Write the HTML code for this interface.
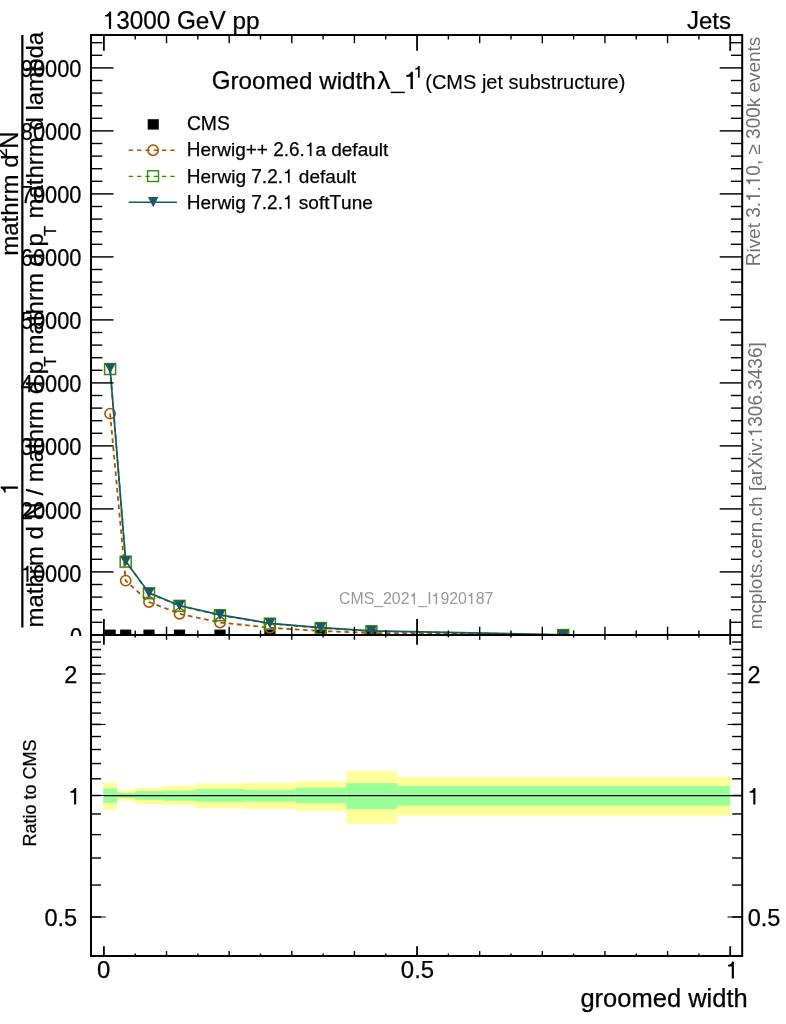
<!DOCTYPE html>
<html><head><meta charset="utf-8"><title>plot</title>
<style>
html,body{margin:0;padding:0;background:#fff;}
svg{display:block;}
text{font-family:"Liberation Sans",sans-serif;}
svg{will-change:transform;}
</style></head>
<body>
<svg width="786" height="1024" viewBox="0 0 786 1024">
<rect x="0" y="0" width="786" height="1024" fill="#fff"/>
<clipPath id="cu"><rect x="0" y="0" width="786" height="636.00"/></clipPath>
<g clip-path="url(#cu)">
<text x="70.02" y="644.78" font-size="23.20" fill="#000" textLength="12.13" lengthAdjust="spacingAndGlyphs" stroke="#000" stroke-width="0.25">0</text>
<path d="M530 0V-1003H209V-1129C389 -1148 512 -1232 569 -1409H715V0Z" transform="translate(20.81 581.66) scale(0.01065 0.01133)" fill="#000" stroke="#000" stroke-width="0.25"/><text x="32.94" y="581.66" font-size="23.20" fill="#000" textLength="48.51" lengthAdjust="spacingAndGlyphs" stroke="#000" stroke-width="0.25">0000</text>
<text x="20.81" y="518.54" font-size="23.20" fill="#000" textLength="60.64" lengthAdjust="spacingAndGlyphs" stroke="#000" stroke-width="0.25">20000</text>
<text x="20.81" y="455.42" font-size="23.20" fill="#000" textLength="60.64" lengthAdjust="spacingAndGlyphs" stroke="#000" stroke-width="0.25">30000</text>
<text x="20.81" y="392.30" font-size="23.20" fill="#000" textLength="60.64" lengthAdjust="spacingAndGlyphs" stroke="#000" stroke-width="0.25">40000</text>
<text x="20.81" y="329.18" font-size="23.20" fill="#000" textLength="60.64" lengthAdjust="spacingAndGlyphs" stroke="#000" stroke-width="0.25">50000</text>
<text x="20.81" y="266.06" font-size="23.20" fill="#000" textLength="60.64" lengthAdjust="spacingAndGlyphs" stroke="#000" stroke-width="0.25">60000</text>
<text x="20.81" y="202.94" font-size="23.20" fill="#000" textLength="60.64" lengthAdjust="spacingAndGlyphs" stroke="#000" stroke-width="0.25">70000</text>
<text x="20.81" y="139.82" font-size="23.20" fill="#000" textLength="60.64" lengthAdjust="spacingAndGlyphs" stroke="#000" stroke-width="0.25">80000</text>
<text x="20.81" y="76.70" font-size="23.20" fill="#000" textLength="60.64" lengthAdjust="spacingAndGlyphs" stroke="#000" stroke-width="0.25">90000</text>
<line x1="22.35" y1="34.90" x2="22.35" y2="627.60" stroke="#000" stroke-width="2.2" />
<g transform="rotate(-90 17.90 495.00)"><path d="M530 0V-1003H209V-1129C389 -1148 512 -1232 569 -1409H715V0Z" transform="translate(17.90 495.00) scale(0.01172 0.01222)" fill="#000" stroke="#000" stroke-width="0.25"/></g>
<g transform="rotate(-90 17.90 255.80)"><text x="17.90" y="255.80" font-size="24.00" fill="#000" textLength="81.34" lengthAdjust="spacingAndGlyphs" stroke="#000" stroke-width="0.25">mathrm</text><text x="105.91" y="255.80" font-size="24.00" fill="#000" textLength="13.35" lengthAdjust="spacingAndGlyphs" stroke="#000" stroke-width="0.25">d</text></g>
<g transform="rotate(-90 7.30 157.30)"><text x="7.30" y="157.30" font-size="17.11" fill="#000" textLength="9.12" lengthAdjust="spacingAndGlyphs" stroke="#000" stroke-width="0.25">2</text></g>
<g transform="rotate(-90 17.90 148.80)"><text x="17.90" y="148.80" font-size="25.03" fill="#000" textLength="17.33" lengthAdjust="spacingAndGlyphs" stroke="#000" stroke-width="0.25">N</text></g>
<g transform="rotate(-90 42.80 627.60)"><text x="42.80" y="627.60" font-size="24.00" fill="#000" textLength="81.34" lengthAdjust="spacingAndGlyphs" stroke="#000" stroke-width="0.25">mathrm</text><text x="130.81" y="627.60" font-size="24.00" fill="#000" textLength="13.35" lengthAdjust="spacingAndGlyphs" stroke="#000" stroke-width="0.25">d</text><text x="150.82" y="627.60" font-size="25.03" fill="#000" textLength="17.33" lengthAdjust="spacingAndGlyphs" stroke="#000" stroke-width="0.25">N</text><text x="174.82" y="627.60" font-size="24.00" fill="#000" textLength="6.67" lengthAdjust="spacingAndGlyphs" stroke="#000" stroke-width="0.25">/</text><text x="188.16" y="627.60" font-size="24.00" fill="#000" textLength="81.34" lengthAdjust="spacingAndGlyphs" stroke="#000" stroke-width="0.25">mathrm</text><text x="276.17" y="627.60" font-size="24.00" fill="#000" textLength="13.35" lengthAdjust="spacingAndGlyphs" stroke="#000" stroke-width="0.25">d</text><text x="296.18" y="627.60" font-size="24.00" fill="#000" textLength="13.35" lengthAdjust="spacingAndGlyphs" stroke="#000" stroke-width="0.25">p</text></g>
<g transform="rotate(-90 55.90 366.50)"><text x="55.90" y="366.50" font-size="17.11" fill="#000" textLength="10.02" lengthAdjust="spacingAndGlyphs" stroke="#000" stroke-width="0.25">T</text></g>
<g transform="rotate(-90 42.80 354.40)"><text x="42.80" y="354.40" font-size="24.00" fill="#000" textLength="81.34" lengthAdjust="spacingAndGlyphs" stroke="#000" stroke-width="0.25">mathrm</text><text x="130.81" y="354.40" font-size="24.00" fill="#000" textLength="13.35" lengthAdjust="spacingAndGlyphs" stroke="#000" stroke-width="0.25">d</text><text x="150.82" y="354.40" font-size="24.00" fill="#000" textLength="13.35" lengthAdjust="spacingAndGlyphs" stroke="#000" stroke-width="0.25">p</text></g>
<g transform="rotate(-90 55.90 236.10)"><text x="55.90" y="236.10" font-size="17.11" fill="#000" textLength="10.02" lengthAdjust="spacingAndGlyphs" stroke="#000" stroke-width="0.25">T</text></g>
<g transform="rotate(-90 42.80 218.50)"><text x="42.80" y="218.50" font-size="24.00" fill="#000" textLength="81.34" lengthAdjust="spacingAndGlyphs" stroke="#000" stroke-width="0.25">mathrm</text><text x="130.81" y="218.50" font-size="24.00" fill="#000" textLength="13.35" lengthAdjust="spacingAndGlyphs" stroke="#000" stroke-width="0.25">d</text><text x="150.82" y="218.50" font-size="24.00" fill="#000" textLength="78.71" lengthAdjust="spacingAndGlyphs" stroke="#000" stroke-width="0.25">lambda</text></g>
<rect x="104.50" y="629.60" width="11.2" height="10.6" fill="#000"/>
<rect x="120.10" y="629.60" width="11.2" height="10.6" fill="#000"/>
<rect x="143.40" y="629.60" width="11.2" height="10.6" fill="#000"/>
<rect x="173.90" y="629.60" width="11.2" height="10.6" fill="#000"/>
<rect x="214.40" y="629.60" width="11.2" height="10.6" fill="#000"/>
<rect x="264.30" y="629.60" width="11.2" height="10.6" fill="#000"/>
<rect x="315.10" y="629.60" width="11.2" height="10.6" fill="#000"/>
<rect x="365.80" y="629.60" width="11.2" height="10.6" fill="#000"/>
<rect x="557.60" y="629.60" width="11.2" height="10.6" fill="#000"/>
<polyline points="110.10,413.60 125.70,580.60 149.00,602.00 179.50,613.70 220.00,622.50 269.90,627.70 320.70,631.00 371.40,633.00 563.20,635.20" fill="none" stroke="#a95503" stroke-width="1.8" stroke-dasharray="4.6 3.7"/>
<circle cx="110.10" cy="413.60" r="5.15" fill="none" stroke="#a95503" stroke-width="1.6"/>
<circle cx="125.70" cy="580.60" r="5.15" fill="none" stroke="#a95503" stroke-width="1.6"/>
<circle cx="149.00" cy="602.00" r="5.15" fill="none" stroke="#a95503" stroke-width="1.6"/>
<circle cx="179.50" cy="613.70" r="5.15" fill="none" stroke="#a95503" stroke-width="1.6"/>
<circle cx="220.00" cy="622.50" r="5.15" fill="none" stroke="#a95503" stroke-width="1.6"/>
<circle cx="269.90" cy="627.70" r="5.15" fill="none" stroke="#a95503" stroke-width="1.6"/>
<circle cx="320.70" cy="631.00" r="5.15" fill="none" stroke="#a95503" stroke-width="1.6"/>
<circle cx="371.40" cy="633.00" r="5.15" fill="none" stroke="#a95503" stroke-width="1.6"/>
<circle cx="563.20" cy="635.20" r="5.15" fill="none" stroke="#a95503" stroke-width="1.6"/>
<polyline points="110.10,369.00 125.70,561.60 149.00,593.20 179.50,605.80 220.00,615.20 269.90,623.60 320.70,628.00 371.40,631.20 563.20,635.00" fill="none" stroke="#358c05" stroke-width="1.7" stroke-dasharray="4.6 3.7"/>
<rect x="104.60" y="363.60" width="11" height="10.9" fill="none" stroke="#358c05" stroke-width="1.5"/>
<rect x="120.20" y="556.20" width="11" height="10.9" fill="none" stroke="#358c05" stroke-width="1.5"/>
<rect x="143.50" y="587.80" width="11" height="10.9" fill="none" stroke="#358c05" stroke-width="1.5"/>
<rect x="174.00" y="600.40" width="11" height="10.9" fill="none" stroke="#358c05" stroke-width="1.5"/>
<rect x="214.50" y="609.80" width="11" height="10.9" fill="none" stroke="#358c05" stroke-width="1.5"/>
<rect x="264.40" y="618.20" width="11" height="10.9" fill="none" stroke="#358c05" stroke-width="1.5"/>
<rect x="315.20" y="622.60" width="11" height="10.9" fill="none" stroke="#358c05" stroke-width="1.5"/>
<rect x="365.90" y="625.80" width="11" height="10.9" fill="none" stroke="#358c05" stroke-width="1.5"/>
<rect x="557.70" y="629.60" width="11" height="10.9" fill="none" stroke="#358c05" stroke-width="1.5"/>
<polyline points="110.10,368.50 125.70,561.30 149.00,592.90 179.50,605.50 220.00,614.90 269.90,623.30 320.70,627.70 371.40,630.90 563.20,634.80" fill="none" stroke="#1a5864" stroke-width="1.7"/>
<polygon points="104.70,363.50 115.50,363.50 110.10,373.50" fill="#1a5864"/>
<polygon points="120.30,556.30 131.10,556.30 125.70,566.30" fill="#1a5864"/>
<polygon points="143.60,587.90 154.40,587.90 149.00,597.90" fill="#1a5864"/>
<polygon points="174.10,600.50 184.90,600.50 179.50,610.50" fill="#1a5864"/>
<polygon points="214.60,609.90 225.40,609.90 220.00,619.90" fill="#1a5864"/>
<polygon points="264.50,618.30 275.30,618.30 269.90,628.30" fill="#1a5864"/>
<polygon points="315.30,622.70 326.10,622.70 320.70,632.70" fill="#1a5864"/>
<polygon points="366.00,625.90 376.80,625.90 371.40,635.90" fill="#1a5864"/>
<polygon points="557.80,629.80 568.60,629.80 563.20,639.80" fill="#1a5864"/>
<line x1="103.90" y1="35.00" x2="103.90" y2="50.80" stroke="#000" stroke-width="1.8" />
<line x1="103.90" y1="634.90" x2="103.90" y2="619.10" stroke="#000" stroke-width="1.8" />
<line x1="135.22" y1="35.00" x2="135.22" y2="39.50" stroke="#000" stroke-width="1.4" />
<line x1="135.22" y1="634.90" x2="135.22" y2="630.40" stroke="#000" stroke-width="1.4" />
<line x1="166.53" y1="35.00" x2="166.53" y2="43.20" stroke="#000" stroke-width="1.4" />
<line x1="166.53" y1="634.90" x2="166.53" y2="626.70" stroke="#000" stroke-width="1.4" />
<line x1="197.85" y1="35.00" x2="197.85" y2="39.50" stroke="#000" stroke-width="1.4" />
<line x1="197.85" y1="634.90" x2="197.85" y2="630.40" stroke="#000" stroke-width="1.4" />
<line x1="229.16" y1="35.00" x2="229.16" y2="43.20" stroke="#000" stroke-width="1.4" />
<line x1="229.16" y1="634.90" x2="229.16" y2="626.70" stroke="#000" stroke-width="1.4" />
<line x1="260.48" y1="35.00" x2="260.48" y2="39.50" stroke="#000" stroke-width="1.4" />
<line x1="260.48" y1="634.90" x2="260.48" y2="630.40" stroke="#000" stroke-width="1.4" />
<line x1="291.79" y1="35.00" x2="291.79" y2="43.20" stroke="#000" stroke-width="1.4" />
<line x1="291.79" y1="634.90" x2="291.79" y2="626.70" stroke="#000" stroke-width="1.4" />
<line x1="323.11" y1="35.00" x2="323.11" y2="39.50" stroke="#000" stroke-width="1.4" />
<line x1="323.11" y1="634.90" x2="323.11" y2="630.40" stroke="#000" stroke-width="1.4" />
<line x1="354.42" y1="35.00" x2="354.42" y2="43.20" stroke="#000" stroke-width="1.4" />
<line x1="354.42" y1="634.90" x2="354.42" y2="626.70" stroke="#000" stroke-width="1.4" />
<line x1="385.74" y1="35.00" x2="385.74" y2="39.50" stroke="#000" stroke-width="1.4" />
<line x1="385.74" y1="634.90" x2="385.74" y2="630.40" stroke="#000" stroke-width="1.4" />
<line x1="417.05" y1="35.00" x2="417.05" y2="50.80" stroke="#000" stroke-width="1.8" />
<line x1="417.05" y1="634.90" x2="417.05" y2="619.10" stroke="#000" stroke-width="1.8" />
<line x1="448.37" y1="35.00" x2="448.37" y2="39.50" stroke="#000" stroke-width="1.4" />
<line x1="448.37" y1="634.90" x2="448.37" y2="630.40" stroke="#000" stroke-width="1.4" />
<line x1="479.68" y1="35.00" x2="479.68" y2="43.20" stroke="#000" stroke-width="1.4" />
<line x1="479.68" y1="634.90" x2="479.68" y2="626.70" stroke="#000" stroke-width="1.4" />
<line x1="511.00" y1="35.00" x2="511.00" y2="39.50" stroke="#000" stroke-width="1.4" />
<line x1="511.00" y1="634.90" x2="511.00" y2="630.40" stroke="#000" stroke-width="1.4" />
<line x1="542.31" y1="35.00" x2="542.31" y2="43.20" stroke="#000" stroke-width="1.4" />
<line x1="542.31" y1="634.90" x2="542.31" y2="626.70" stroke="#000" stroke-width="1.4" />
<line x1="573.62" y1="35.00" x2="573.62" y2="39.50" stroke="#000" stroke-width="1.4" />
<line x1="573.62" y1="634.90" x2="573.62" y2="630.40" stroke="#000" stroke-width="1.4" />
<line x1="604.94" y1="35.00" x2="604.94" y2="43.20" stroke="#000" stroke-width="1.4" />
<line x1="604.94" y1="634.90" x2="604.94" y2="626.70" stroke="#000" stroke-width="1.4" />
<line x1="636.25" y1="35.00" x2="636.25" y2="39.50" stroke="#000" stroke-width="1.4" />
<line x1="636.25" y1="634.90" x2="636.25" y2="630.40" stroke="#000" stroke-width="1.4" />
<line x1="667.57" y1="35.00" x2="667.57" y2="43.20" stroke="#000" stroke-width="1.4" />
<line x1="667.57" y1="634.90" x2="667.57" y2="626.70" stroke="#000" stroke-width="1.4" />
<line x1="698.88" y1="35.00" x2="698.88" y2="39.50" stroke="#000" stroke-width="1.4" />
<line x1="698.88" y1="634.90" x2="698.88" y2="630.40" stroke="#000" stroke-width="1.4" />
<line x1="730.20" y1="35.00" x2="730.20" y2="50.80" stroke="#000" stroke-width="1.8" />
<line x1="730.20" y1="634.90" x2="730.20" y2="619.10" stroke="#000" stroke-width="1.8" />
<line x1="91.00" y1="634.90" x2="113.50" y2="634.90" stroke="#000" stroke-width="1.45" />
<line x1="742.20" y1="634.90" x2="719.70" y2="634.90" stroke="#000" stroke-width="1.45" />
<line x1="91.00" y1="622.30" x2="102.30" y2="622.30" stroke="#000" stroke-width="1.4" />
<line x1="742.20" y1="622.30" x2="730.90" y2="622.30" stroke="#000" stroke-width="1.4" />
<line x1="91.00" y1="609.70" x2="102.30" y2="609.70" stroke="#000" stroke-width="1.4" />
<line x1="742.20" y1="609.70" x2="730.90" y2="609.70" stroke="#000" stroke-width="1.4" />
<line x1="91.00" y1="597.10" x2="102.30" y2="597.10" stroke="#000" stroke-width="1.4" />
<line x1="742.20" y1="597.10" x2="730.90" y2="597.10" stroke="#000" stroke-width="1.4" />
<line x1="91.00" y1="584.50" x2="102.30" y2="584.50" stroke="#000" stroke-width="1.4" />
<line x1="742.20" y1="584.50" x2="730.90" y2="584.50" stroke="#000" stroke-width="1.4" />
<line x1="91.00" y1="571.90" x2="113.50" y2="571.90" stroke="#000" stroke-width="1.45" />
<line x1="742.20" y1="571.90" x2="719.70" y2="571.90" stroke="#000" stroke-width="1.45" />
<line x1="91.00" y1="559.30" x2="102.30" y2="559.30" stroke="#000" stroke-width="1.4" />
<line x1="742.20" y1="559.30" x2="730.90" y2="559.30" stroke="#000" stroke-width="1.4" />
<line x1="91.00" y1="546.70" x2="102.30" y2="546.70" stroke="#000" stroke-width="1.4" />
<line x1="742.20" y1="546.70" x2="730.90" y2="546.70" stroke="#000" stroke-width="1.4" />
<line x1="91.00" y1="534.10" x2="102.30" y2="534.10" stroke="#000" stroke-width="1.4" />
<line x1="742.20" y1="534.10" x2="730.90" y2="534.10" stroke="#000" stroke-width="1.4" />
<line x1="91.00" y1="521.50" x2="102.30" y2="521.50" stroke="#000" stroke-width="1.4" />
<line x1="742.20" y1="521.50" x2="730.90" y2="521.50" stroke="#000" stroke-width="1.4" />
<line x1="91.00" y1="508.90" x2="113.50" y2="508.90" stroke="#000" stroke-width="1.45" />
<line x1="742.20" y1="508.90" x2="719.70" y2="508.90" stroke="#000" stroke-width="1.45" />
<line x1="91.00" y1="496.30" x2="102.30" y2="496.30" stroke="#000" stroke-width="1.4" />
<line x1="742.20" y1="496.30" x2="730.90" y2="496.30" stroke="#000" stroke-width="1.4" />
<line x1="91.00" y1="483.70" x2="102.30" y2="483.70" stroke="#000" stroke-width="1.4" />
<line x1="742.20" y1="483.70" x2="730.90" y2="483.70" stroke="#000" stroke-width="1.4" />
<line x1="91.00" y1="471.10" x2="102.30" y2="471.10" stroke="#000" stroke-width="1.4" />
<line x1="742.20" y1="471.10" x2="730.90" y2="471.10" stroke="#000" stroke-width="1.4" />
<line x1="91.00" y1="458.50" x2="102.30" y2="458.50" stroke="#000" stroke-width="1.4" />
<line x1="742.20" y1="458.50" x2="730.90" y2="458.50" stroke="#000" stroke-width="1.4" />
<line x1="91.00" y1="445.90" x2="113.50" y2="445.90" stroke="#000" stroke-width="1.45" />
<line x1="742.20" y1="445.90" x2="719.70" y2="445.90" stroke="#000" stroke-width="1.45" />
<line x1="91.00" y1="433.30" x2="102.30" y2="433.30" stroke="#000" stroke-width="1.4" />
<line x1="742.20" y1="433.30" x2="730.90" y2="433.30" stroke="#000" stroke-width="1.4" />
<line x1="91.00" y1="420.70" x2="102.30" y2="420.70" stroke="#000" stroke-width="1.4" />
<line x1="742.20" y1="420.70" x2="730.90" y2="420.70" stroke="#000" stroke-width="1.4" />
<line x1="91.00" y1="408.10" x2="102.30" y2="408.10" stroke="#000" stroke-width="1.4" />
<line x1="742.20" y1="408.10" x2="730.90" y2="408.10" stroke="#000" stroke-width="1.4" />
<line x1="91.00" y1="395.50" x2="102.30" y2="395.50" stroke="#000" stroke-width="1.4" />
<line x1="742.20" y1="395.50" x2="730.90" y2="395.50" stroke="#000" stroke-width="1.4" />
<line x1="91.00" y1="382.90" x2="113.50" y2="382.90" stroke="#000" stroke-width="1.45" />
<line x1="742.20" y1="382.90" x2="719.70" y2="382.90" stroke="#000" stroke-width="1.45" />
<line x1="91.00" y1="370.30" x2="102.30" y2="370.30" stroke="#000" stroke-width="1.4" />
<line x1="742.20" y1="370.30" x2="730.90" y2="370.30" stroke="#000" stroke-width="1.4" />
<line x1="91.00" y1="357.70" x2="102.30" y2="357.70" stroke="#000" stroke-width="1.4" />
<line x1="742.20" y1="357.70" x2="730.90" y2="357.70" stroke="#000" stroke-width="1.4" />
<line x1="91.00" y1="345.10" x2="102.30" y2="345.10" stroke="#000" stroke-width="1.4" />
<line x1="742.20" y1="345.10" x2="730.90" y2="345.10" stroke="#000" stroke-width="1.4" />
<line x1="91.00" y1="332.50" x2="102.30" y2="332.50" stroke="#000" stroke-width="1.4" />
<line x1="742.20" y1="332.50" x2="730.90" y2="332.50" stroke="#000" stroke-width="1.4" />
<line x1="91.00" y1="319.90" x2="113.50" y2="319.90" stroke="#000" stroke-width="1.45" />
<line x1="742.20" y1="319.90" x2="719.70" y2="319.90" stroke="#000" stroke-width="1.45" />
<line x1="91.00" y1="307.30" x2="102.30" y2="307.30" stroke="#000" stroke-width="1.4" />
<line x1="742.20" y1="307.30" x2="730.90" y2="307.30" stroke="#000" stroke-width="1.4" />
<line x1="91.00" y1="294.70" x2="102.30" y2="294.70" stroke="#000" stroke-width="1.4" />
<line x1="742.20" y1="294.70" x2="730.90" y2="294.70" stroke="#000" stroke-width="1.4" />
<line x1="91.00" y1="282.10" x2="102.30" y2="282.10" stroke="#000" stroke-width="1.4" />
<line x1="742.20" y1="282.10" x2="730.90" y2="282.10" stroke="#000" stroke-width="1.4" />
<line x1="91.00" y1="269.50" x2="102.30" y2="269.50" stroke="#000" stroke-width="1.4" />
<line x1="742.20" y1="269.50" x2="730.90" y2="269.50" stroke="#000" stroke-width="1.4" />
<line x1="91.00" y1="256.90" x2="113.50" y2="256.90" stroke="#000" stroke-width="1.45" />
<line x1="742.20" y1="256.90" x2="719.70" y2="256.90" stroke="#000" stroke-width="1.45" />
<line x1="91.00" y1="244.30" x2="102.30" y2="244.30" stroke="#000" stroke-width="1.4" />
<line x1="742.20" y1="244.30" x2="730.90" y2="244.30" stroke="#000" stroke-width="1.4" />
<line x1="91.00" y1="231.70" x2="102.30" y2="231.70" stroke="#000" stroke-width="1.4" />
<line x1="742.20" y1="231.70" x2="730.90" y2="231.70" stroke="#000" stroke-width="1.4" />
<line x1="91.00" y1="219.10" x2="102.30" y2="219.10" stroke="#000" stroke-width="1.4" />
<line x1="742.20" y1="219.10" x2="730.90" y2="219.10" stroke="#000" stroke-width="1.4" />
<line x1="91.00" y1="206.50" x2="102.30" y2="206.50" stroke="#000" stroke-width="1.4" />
<line x1="742.20" y1="206.50" x2="730.90" y2="206.50" stroke="#000" stroke-width="1.4" />
<line x1="91.00" y1="193.90" x2="113.50" y2="193.90" stroke="#000" stroke-width="1.45" />
<line x1="742.20" y1="193.90" x2="719.70" y2="193.90" stroke="#000" stroke-width="1.45" />
<line x1="91.00" y1="181.30" x2="102.30" y2="181.30" stroke="#000" stroke-width="1.4" />
<line x1="742.20" y1="181.30" x2="730.90" y2="181.30" stroke="#000" stroke-width="1.4" />
<line x1="91.00" y1="168.70" x2="102.30" y2="168.70" stroke="#000" stroke-width="1.4" />
<line x1="742.20" y1="168.70" x2="730.90" y2="168.70" stroke="#000" stroke-width="1.4" />
<line x1="91.00" y1="156.10" x2="102.30" y2="156.10" stroke="#000" stroke-width="1.4" />
<line x1="742.20" y1="156.10" x2="730.90" y2="156.10" stroke="#000" stroke-width="1.4" />
<line x1="91.00" y1="143.50" x2="102.30" y2="143.50" stroke="#000" stroke-width="1.4" />
<line x1="742.20" y1="143.50" x2="730.90" y2="143.50" stroke="#000" stroke-width="1.4" />
<line x1="91.00" y1="130.90" x2="113.50" y2="130.90" stroke="#000" stroke-width="1.45" />
<line x1="742.20" y1="130.90" x2="719.70" y2="130.90" stroke="#000" stroke-width="1.45" />
<line x1="91.00" y1="118.30" x2="102.30" y2="118.30" stroke="#000" stroke-width="1.4" />
<line x1="742.20" y1="118.30" x2="730.90" y2="118.30" stroke="#000" stroke-width="1.4" />
<line x1="91.00" y1="105.70" x2="102.30" y2="105.70" stroke="#000" stroke-width="1.4" />
<line x1="742.20" y1="105.70" x2="730.90" y2="105.70" stroke="#000" stroke-width="1.4" />
<line x1="91.00" y1="93.10" x2="102.30" y2="93.10" stroke="#000" stroke-width="1.4" />
<line x1="742.20" y1="93.10" x2="730.90" y2="93.10" stroke="#000" stroke-width="1.4" />
<line x1="91.00" y1="80.50" x2="102.30" y2="80.50" stroke="#000" stroke-width="1.4" />
<line x1="742.20" y1="80.50" x2="730.90" y2="80.50" stroke="#000" stroke-width="1.4" />
<line x1="91.00" y1="67.90" x2="113.50" y2="67.90" stroke="#000" stroke-width="1.45" />
<line x1="742.20" y1="67.90" x2="719.70" y2="67.90" stroke="#000" stroke-width="1.45" />
<line x1="91.00" y1="55.30" x2="102.30" y2="55.30" stroke="#000" stroke-width="1.4" />
<line x1="742.20" y1="55.30" x2="730.90" y2="55.30" stroke="#000" stroke-width="1.4" />
<line x1="91.00" y1="42.70" x2="102.30" y2="42.70" stroke="#000" stroke-width="1.4" />
<line x1="742.20" y1="42.70" x2="730.90" y2="42.70" stroke="#000" stroke-width="1.4" />
</g>
<rect x="103.10" y="782.50" width="13.90" height="27.40" fill="#ffff99"/>
<rect x="117.00" y="790.10" width="17.80" height="10.80" fill="#ffff99"/>
<rect x="134.80" y="788.00" width="28.20" height="16.00" fill="#ffff99"/>
<rect x="163.00" y="785.90" width="32.20" height="19.20" fill="#ffff99"/>
<rect x="195.20" y="783.40" width="48.90" height="24.80" fill="#ffff99"/>
<rect x="244.10" y="782.80" width="51.20" height="26.20" fill="#ffff99"/>
<rect x="295.30" y="781.00" width="50.90" height="30.00" fill="#ffff99"/>
<rect x="346.20" y="771.00" width="50.90" height="52.70" fill="#ffff99"/>
<rect x="397.10" y="776.90" width="333.00" height="38.90" fill="#ffff99"/>
<rect x="103.10" y="788.50" width="13.90" height="14.40" fill="#99ff99"/>
<rect x="117.00" y="792.90" width="17.80" height="5.10" fill="#99ff99"/>
<rect x="134.80" y="791.10" width="28.20" height="8.70" fill="#99ff99"/>
<rect x="163.00" y="790.60" width="32.20" height="10.10" fill="#99ff99"/>
<rect x="195.20" y="789.00" width="48.90" height="12.90" fill="#99ff99"/>
<rect x="244.10" y="789.80" width="51.20" height="11.80" fill="#99ff99"/>
<rect x="295.30" y="787.60" width="50.90" height="15.70" fill="#99ff99"/>
<rect x="346.20" y="783.10" width="50.90" height="26.00" fill="#99ff99"/>
<rect x="397.10" y="786.00" width="333.00" height="19.60" fill="#99ff99"/>
<line x1="103.90" y1="795.60" x2="742.20" y2="795.60" stroke="#000" stroke-width="1.3" />
<line x1="103.90" y1="634.90" x2="103.90" y2="644.70" stroke="#000" stroke-width="1.8" />
<line x1="103.90" y1="956.00" x2="103.90" y2="946.20" stroke="#000" stroke-width="1.8" />
<line x1="135.22" y1="634.90" x2="135.22" y2="637.40" stroke="#000" stroke-width="1.4" />
<line x1="135.22" y1="956.00" x2="135.22" y2="953.50" stroke="#000" stroke-width="1.4" />
<line x1="166.53" y1="634.90" x2="166.53" y2="639.80" stroke="#000" stroke-width="1.4" />
<line x1="166.53" y1="956.00" x2="166.53" y2="951.10" stroke="#000" stroke-width="1.4" />
<line x1="197.85" y1="634.90" x2="197.85" y2="637.40" stroke="#000" stroke-width="1.4" />
<line x1="197.85" y1="956.00" x2="197.85" y2="953.50" stroke="#000" stroke-width="1.4" />
<line x1="229.16" y1="634.90" x2="229.16" y2="639.80" stroke="#000" stroke-width="1.4" />
<line x1="229.16" y1="956.00" x2="229.16" y2="951.10" stroke="#000" stroke-width="1.4" />
<line x1="260.48" y1="634.90" x2="260.48" y2="637.40" stroke="#000" stroke-width="1.4" />
<line x1="260.48" y1="956.00" x2="260.48" y2="953.50" stroke="#000" stroke-width="1.4" />
<line x1="291.79" y1="634.90" x2="291.79" y2="639.80" stroke="#000" stroke-width="1.4" />
<line x1="291.79" y1="956.00" x2="291.79" y2="951.10" stroke="#000" stroke-width="1.4" />
<line x1="323.11" y1="634.90" x2="323.11" y2="637.40" stroke="#000" stroke-width="1.4" />
<line x1="323.11" y1="956.00" x2="323.11" y2="953.50" stroke="#000" stroke-width="1.4" />
<line x1="354.42" y1="634.90" x2="354.42" y2="639.80" stroke="#000" stroke-width="1.4" />
<line x1="354.42" y1="956.00" x2="354.42" y2="951.10" stroke="#000" stroke-width="1.4" />
<line x1="385.74" y1="634.90" x2="385.74" y2="637.40" stroke="#000" stroke-width="1.4" />
<line x1="385.74" y1="956.00" x2="385.74" y2="953.50" stroke="#000" stroke-width="1.4" />
<line x1="417.05" y1="634.90" x2="417.05" y2="644.70" stroke="#000" stroke-width="1.8" />
<line x1="417.05" y1="956.00" x2="417.05" y2="946.20" stroke="#000" stroke-width="1.8" />
<line x1="448.37" y1="634.90" x2="448.37" y2="637.40" stroke="#000" stroke-width="1.4" />
<line x1="448.37" y1="956.00" x2="448.37" y2="953.50" stroke="#000" stroke-width="1.4" />
<line x1="479.68" y1="634.90" x2="479.68" y2="639.80" stroke="#000" stroke-width="1.4" />
<line x1="479.68" y1="956.00" x2="479.68" y2="951.10" stroke="#000" stroke-width="1.4" />
<line x1="511.00" y1="634.90" x2="511.00" y2="637.40" stroke="#000" stroke-width="1.4" />
<line x1="511.00" y1="956.00" x2="511.00" y2="953.50" stroke="#000" stroke-width="1.4" />
<line x1="542.31" y1="634.90" x2="542.31" y2="639.80" stroke="#000" stroke-width="1.4" />
<line x1="542.31" y1="956.00" x2="542.31" y2="951.10" stroke="#000" stroke-width="1.4" />
<line x1="573.62" y1="634.90" x2="573.62" y2="637.40" stroke="#000" stroke-width="1.4" />
<line x1="573.62" y1="956.00" x2="573.62" y2="953.50" stroke="#000" stroke-width="1.4" />
<line x1="604.94" y1="634.90" x2="604.94" y2="639.80" stroke="#000" stroke-width="1.4" />
<line x1="604.94" y1="956.00" x2="604.94" y2="951.10" stroke="#000" stroke-width="1.4" />
<line x1="636.25" y1="634.90" x2="636.25" y2="637.40" stroke="#000" stroke-width="1.4" />
<line x1="636.25" y1="956.00" x2="636.25" y2="953.50" stroke="#000" stroke-width="1.4" />
<line x1="667.57" y1="634.90" x2="667.57" y2="639.80" stroke="#000" stroke-width="1.4" />
<line x1="667.57" y1="956.00" x2="667.57" y2="951.10" stroke="#000" stroke-width="1.4" />
<line x1="698.88" y1="634.90" x2="698.88" y2="637.40" stroke="#000" stroke-width="1.4" />
<line x1="698.88" y1="956.00" x2="698.88" y2="953.50" stroke="#000" stroke-width="1.4" />
<line x1="730.20" y1="634.90" x2="730.20" y2="644.70" stroke="#000" stroke-width="1.8" />
<line x1="730.20" y1="956.00" x2="730.20" y2="946.20" stroke="#000" stroke-width="1.8" />
<line x1="91.00" y1="917.00" x2="105.70" y2="917.00" stroke="#000" stroke-width="1.0" />
<line x1="742.20" y1="917.00" x2="727.50" y2="917.00" stroke="#000" stroke-width="1.0" />
<line x1="91.00" y1="917.00" x2="101.00" y2="917.00" stroke="#000" stroke-width="1.5" />
<line x1="742.20" y1="917.00" x2="732.20" y2="917.00" stroke="#000" stroke-width="1.5" />
<line x1="91.00" y1="885.04" x2="101.00" y2="885.04" stroke="#000" stroke-width="1.4" />
<line x1="742.20" y1="885.04" x2="732.20" y2="885.04" stroke="#000" stroke-width="1.4" />
<line x1="91.00" y1="858.02" x2="101.00" y2="858.02" stroke="#000" stroke-width="1.4" />
<line x1="742.20" y1="858.02" x2="732.20" y2="858.02" stroke="#000" stroke-width="1.4" />
<line x1="91.00" y1="834.61" x2="101.00" y2="834.61" stroke="#000" stroke-width="1.4" />
<line x1="742.20" y1="834.61" x2="732.20" y2="834.61" stroke="#000" stroke-width="1.4" />
<line x1="91.00" y1="813.97" x2="101.00" y2="813.97" stroke="#000" stroke-width="1.4" />
<line x1="742.20" y1="813.97" x2="732.20" y2="813.97" stroke="#000" stroke-width="1.4" />
<line x1="91.00" y1="795.50" x2="105.70" y2="795.50" stroke="#000" stroke-width="1.0" />
<line x1="742.20" y1="795.50" x2="727.50" y2="795.50" stroke="#000" stroke-width="1.0" />
<line x1="91.00" y1="795.50" x2="101.00" y2="795.50" stroke="#000" stroke-width="1.5" />
<line x1="742.20" y1="795.50" x2="732.20" y2="795.50" stroke="#000" stroke-width="1.5" />
<line x1="91.00" y1="778.79" x2="101.00" y2="778.79" stroke="#000" stroke-width="1.4" />
<line x1="742.20" y1="778.79" x2="732.20" y2="778.79" stroke="#000" stroke-width="1.4" />
<line x1="91.00" y1="763.54" x2="101.00" y2="763.54" stroke="#000" stroke-width="1.4" />
<line x1="742.20" y1="763.54" x2="732.20" y2="763.54" stroke="#000" stroke-width="1.4" />
<line x1="91.00" y1="749.51" x2="101.00" y2="749.51" stroke="#000" stroke-width="1.4" />
<line x1="742.20" y1="749.51" x2="732.20" y2="749.51" stroke="#000" stroke-width="1.4" />
<line x1="91.00" y1="736.52" x2="101.00" y2="736.52" stroke="#000" stroke-width="1.4" />
<line x1="742.20" y1="736.52" x2="732.20" y2="736.52" stroke="#000" stroke-width="1.4" />
<line x1="91.00" y1="724.43" x2="105.70" y2="724.43" stroke="#000" stroke-width="1.0" />
<line x1="742.20" y1="724.43" x2="727.50" y2="724.43" stroke="#000" stroke-width="1.0" />
<line x1="91.00" y1="724.43" x2="101.00" y2="724.43" stroke="#000" stroke-width="1.5" />
<line x1="742.20" y1="724.43" x2="732.20" y2="724.43" stroke="#000" stroke-width="1.5" />
<line x1="91.00" y1="713.11" x2="101.00" y2="713.11" stroke="#000" stroke-width="1.4" />
<line x1="742.20" y1="713.11" x2="732.20" y2="713.11" stroke="#000" stroke-width="1.4" />
<line x1="91.00" y1="702.49" x2="101.00" y2="702.49" stroke="#000" stroke-width="1.4" />
<line x1="742.20" y1="702.49" x2="732.20" y2="702.49" stroke="#000" stroke-width="1.4" />
<line x1="91.00" y1="692.47" x2="101.00" y2="692.47" stroke="#000" stroke-width="1.4" />
<line x1="742.20" y1="692.47" x2="732.20" y2="692.47" stroke="#000" stroke-width="1.4" />
<line x1="91.00" y1="682.99" x2="101.00" y2="682.99" stroke="#000" stroke-width="1.4" />
<line x1="742.20" y1="682.99" x2="732.20" y2="682.99" stroke="#000" stroke-width="1.4" />
<line x1="91.00" y1="674.00" x2="105.70" y2="674.00" stroke="#000" stroke-width="1.0" />
<line x1="742.20" y1="674.00" x2="727.50" y2="674.00" stroke="#000" stroke-width="1.0" />
<line x1="91.00" y1="674.00" x2="101.00" y2="674.00" stroke="#000" stroke-width="1.5" />
<line x1="742.20" y1="674.00" x2="732.20" y2="674.00" stroke="#000" stroke-width="1.5" />
<line x1="91.00" y1="665.45" x2="101.00" y2="665.45" stroke="#000" stroke-width="1.4" />
<line x1="742.20" y1="665.45" x2="732.20" y2="665.45" stroke="#000" stroke-width="1.4" />
<line x1="91.00" y1="657.29" x2="101.00" y2="657.29" stroke="#000" stroke-width="1.4" />
<line x1="742.20" y1="657.29" x2="732.20" y2="657.29" stroke="#000" stroke-width="1.4" />
<line x1="91.00" y1="649.50" x2="101.00" y2="649.50" stroke="#000" stroke-width="1.4" />
<line x1="742.20" y1="649.50" x2="732.20" y2="649.50" stroke="#000" stroke-width="1.4" />
<line x1="91.00" y1="642.04" x2="101.00" y2="642.04" stroke="#000" stroke-width="1.4" />
<line x1="742.20" y1="642.04" x2="732.20" y2="642.04" stroke="#000" stroke-width="1.4" />
<rect x="91.0" y="35.0" width="651.20" height="921.00" fill="none" stroke="#000" stroke-width="2"/>
<line x1="91.00" y1="634.90" x2="742.20" y2="634.90" stroke="#000" stroke-width="2.0" />
<text x="64.31" y="683.00" font-size="24.10" fill="#000" textLength="13.07" lengthAdjust="spacingAndGlyphs" stroke="#000" stroke-width="0.25">2</text>
<text x="747.42" y="683.00" font-size="24.10" fill="#000" textLength="13.07" lengthAdjust="spacingAndGlyphs" stroke="#000" stroke-width="0.25">2</text>
<path d="M530 0V-1003H209V-1129C389 -1148 512 -1232 569 -1409H715V0Z" transform="translate(68.00 804.50) scale(0.01147 0.01177)" fill="#000" stroke="#000" stroke-width="0.25"/>
<path d="M530 0V-1003H209V-1129C389 -1148 512 -1232 569 -1409H715V0Z" transform="translate(747.20 804.50) scale(0.01147 0.01177)" fill="#000" stroke="#000" stroke-width="0.25"/>
<text x="44.52" y="926.00" font-size="24.10" fill="#000" textLength="32.66" lengthAdjust="spacingAndGlyphs" stroke="#000" stroke-width="0.25">0.5</text>
<text x="747.68" y="926.00" font-size="24.10" fill="#000" textLength="32.66" lengthAdjust="spacingAndGlyphs" stroke="#000" stroke-width="0.25">0.5</text>
<text x="96.89" y="978.40" font-size="24.50" fill="#000" textLength="13.33" lengthAdjust="spacingAndGlyphs" stroke="#000" stroke-width="0.25">0</text>
<text x="400.83" y="978.40" font-size="24.50" fill="#000" textLength="33.31" lengthAdjust="spacingAndGlyphs" stroke="#000" stroke-width="0.25">0.5</text>
<path d="M530 0V-1003H209V-1129C389 -1148 512 -1232 569 -1409H715V0Z" transform="translate(725.54 978.40) scale(0.01170 0.01196)" fill="#000" stroke="#000" stroke-width="0.25"/>
<text x="580.43" y="1006.80" font-size="24.90" fill="#000" textLength="100.69" lengthAdjust="spacingAndGlyphs" stroke="#000" stroke-width="0.25">groomed</text><text x="688.20" y="1006.80" font-size="24.90" fill="#000" textLength="59.55" lengthAdjust="spacingAndGlyphs" stroke="#000" stroke-width="0.25">width</text>
<g transform="rotate(-90 36.00 846.50)"><text x="36.00" y="846.50" font-size="18.77" fill="#000" textLength="13.00" lengthAdjust="spacingAndGlyphs" stroke="#000" stroke-width="0.25">R</text><text x="49.00" y="846.50" font-size="18.00" fill="#000" textLength="29.02" lengthAdjust="spacingAndGlyphs" stroke="#000" stroke-width="0.25">atio</text><text x="83.02" y="846.50" font-size="18.00" fill="#000" textLength="15.01" lengthAdjust="spacingAndGlyphs" stroke="#000" stroke-width="0.25">to</text><text x="103.03" y="846.50" font-size="18.77" fill="#000" textLength="40.00" lengthAdjust="spacingAndGlyphs" stroke="#000" stroke-width="0.25">CMS</text></g>
<path d="M530 0V-1003H209V-1129C389 -1148 512 -1232 569 -1409H715V0Z" transform="translate(102.62 29.00) scale(0.01187 0.01238)" fill="#000" stroke="#000" stroke-width="0.25"/><text x="116.14" y="29.00" font-size="25.34" fill="#000" textLength="54.08" lengthAdjust="spacingAndGlyphs" stroke="#000" stroke-width="0.25">3000</text><text x="176.98" y="29.00" font-size="25.34" fill="#000" textLength="18.91" lengthAdjust="spacingAndGlyphs" stroke="#000" stroke-width="0.25">G</text><text x="195.89" y="29.00" font-size="24.30" fill="#000" textLength="13.52" lengthAdjust="spacingAndGlyphs" stroke="#000" stroke-width="0.25">e</text><text x="209.41" y="29.00" font-size="25.34" fill="#000" textLength="16.22" lengthAdjust="spacingAndGlyphs" stroke="#000" stroke-width="0.25">V</text><text x="232.38" y="29.00" font-size="24.30" fill="#000" textLength="27.04" lengthAdjust="spacingAndGlyphs" stroke="#000" stroke-width="0.25">pp</text>
<text x="686.92" y="29.00" font-size="25.34" fill="#000" textLength="12.01" lengthAdjust="spacingAndGlyphs" stroke="#000" stroke-width="0.25">J</text><text x="698.93" y="29.00" font-size="24.30" fill="#000" textLength="32.04" lengthAdjust="spacingAndGlyphs" stroke="#000" stroke-width="0.25">ets</text>
<text x="211.68" y="89.00" font-size="25.03" fill="#000" textLength="18.81" lengthAdjust="spacingAndGlyphs" stroke="#000" stroke-width="0.25">G</text><text x="230.49" y="89.00" font-size="24.00" fill="#000" textLength="82.00" lengthAdjust="spacingAndGlyphs" stroke="#000" stroke-width="0.25">roomed</text><text x="319.21" y="89.00" font-size="24.00" fill="#000" textLength="56.46" lengthAdjust="spacingAndGlyphs" stroke="#000" stroke-width="0.25">width</text>
<text x="377.32" y="89.00" font-size="23.60" fill="#000" textLength="13.21" lengthAdjust="spacingAndGlyphs" stroke="#000" stroke-width="0.1">λ</text>
<line x1="390.60" y1="92.40" x2="404.90" y2="92.40" stroke="#000" stroke-width="1.45" />
<path d="M530 0V-1003H209V-1129C389 -1148 512 -1232 569 -1409H715V0Z" transform="translate(403.43 89.00) scale(0.01324 0.01222)" fill="#000" stroke="#000" stroke-width="0.25"/>
<path d="M530 0V-1003H209V-1129C389 -1148 512 -1232 569 -1409H715V0Z" transform="translate(413.20 77.80) scale(0.00909 0.00830)" fill="#000"/>
<text x="425.26" y="89.00" font-size="19.70" fill="#000" textLength="6.66" lengthAdjust="spacingAndGlyphs" stroke="#000" stroke-width="0.15">(</text><text x="431.92" y="89.00" font-size="20.55" fill="#000" textLength="44.45" lengthAdjust="spacingAndGlyphs" stroke="#000" stroke-width="0.15">CMS</text><text x="481.93" y="89.00" font-size="19.70" fill="#000" textLength="21.13" lengthAdjust="spacingAndGlyphs" stroke="#000" stroke-width="0.15">jet</text><text x="508.61" y="89.00" font-size="19.70" fill="#000" textLength="116.73" lengthAdjust="spacingAndGlyphs" stroke="#000" stroke-width="0.15">substructure)</text>
<rect x="147.7" y="119.2" width="11.1" height="10.4" fill="#000"/>
<line x1="128.70" y1="150.30" x2="175.00" y2="150.30" stroke="#a95503" stroke-width="1.4" stroke-dasharray="4.4 3.92"/>
<circle cx="153.1" cy="150.25" r="5.15" fill="none" stroke="#a95503" stroke-width="1.5"/>
<line x1="128.70" y1="176.40" x2="175.00" y2="176.40" stroke="#358c05" stroke-width="1.4" stroke-dasharray="4.4 3.92"/>
<rect x="147.6" y="170.8" width="10.9" height="10.7" fill="none" stroke="#358c05" stroke-width="1.4"/>
<line x1="128.70" y1="202.30" x2="176.90" y2="202.30" stroke="#1a5864" stroke-width="1.5" />
<polygon points="147.9,197.1 158.4,197.1 153.2,207.3" fill="#1a5864"/>
<text x="186.92" y="130.20" font-size="20.13" fill="#000" textLength="42.97" lengthAdjust="spacingAndGlyphs" stroke="#000" stroke-width="0.25">CMS</text>
<text x="186.74" y="156.00" font-size="19.71" fill="#000" textLength="13.70" lengthAdjust="spacingAndGlyphs" stroke="#000" stroke-width="0.25">H</text><text x="200.45" y="156.00" font-size="18.90" fill="#000" textLength="67.51" lengthAdjust="spacingAndGlyphs" stroke="#000" stroke-width="0.25">erwig++</text><text x="273.23" y="156.00" font-size="19.71" fill="#000" textLength="10.55" lengthAdjust="spacingAndGlyphs" stroke="#000" stroke-width="0.25">2</text><text x="283.78" y="156.00" font-size="18.90" fill="#000" textLength="5.27" lengthAdjust="spacingAndGlyphs" stroke="#000" stroke-width="0.25">.</text><text x="289.06" y="156.00" font-size="19.71" fill="#000" textLength="10.55" lengthAdjust="spacingAndGlyphs" stroke="#000" stroke-width="0.25">6</text><text x="299.61" y="156.00" font-size="18.90" fill="#000" textLength="5.27" lengthAdjust="spacingAndGlyphs" stroke="#000" stroke-width="0.25">.</text><path d="M530 0V-1003H209V-1129C389 -1148 512 -1232 569 -1409H715V0Z" transform="translate(304.88 156.00) scale(0.00927 0.00963)" fill="#000" stroke="#000" stroke-width="0.25"/><text x="315.44" y="156.00" font-size="18.90" fill="#000" textLength="10.55" lengthAdjust="spacingAndGlyphs" stroke="#000" stroke-width="0.25">a</text><text x="331.26" y="156.00" font-size="18.90" fill="#000" textLength="56.98" lengthAdjust="spacingAndGlyphs" stroke="#000" stroke-width="0.25">default</text>
<text x="186.74" y="182.80" font-size="19.71" fill="#000" textLength="13.75" lengthAdjust="spacingAndGlyphs" stroke="#000" stroke-width="0.25">H</text><text x="200.49" y="182.80" font-size="18.90" fill="#000" textLength="45.49" lengthAdjust="spacingAndGlyphs" stroke="#000" stroke-width="0.25">erwig</text><text x="251.26" y="182.80" font-size="19.71" fill="#000" textLength="10.59" lengthAdjust="spacingAndGlyphs" stroke="#000" stroke-width="0.25">7</text><text x="261.85" y="182.80" font-size="18.90" fill="#000" textLength="5.29" lengthAdjust="spacingAndGlyphs" stroke="#000" stroke-width="0.25">.</text><text x="267.14" y="182.80" font-size="19.71" fill="#000" textLength="10.59" lengthAdjust="spacingAndGlyphs" stroke="#000" stroke-width="0.25">2</text><text x="277.72" y="182.80" font-size="18.90" fill="#000" textLength="5.29" lengthAdjust="spacingAndGlyphs" stroke="#000" stroke-width="0.25">.</text><path d="M530 0V-1003H209V-1129C389 -1148 512 -1232 569 -1409H715V0Z" transform="translate(283.01 182.80) scale(0.00929 0.00963)" fill="#000" stroke="#000" stroke-width="0.25"/><text x="298.89" y="182.80" font-size="18.90" fill="#000" textLength="57.15" lengthAdjust="spacingAndGlyphs" stroke="#000" stroke-width="0.25">default</text>
<text x="186.74" y="208.80" font-size="19.71" fill="#000" textLength="13.74" lengthAdjust="spacingAndGlyphs" stroke="#000" stroke-width="0.25">H</text><text x="200.48" y="208.80" font-size="18.90" fill="#000" textLength="45.46" lengthAdjust="spacingAndGlyphs" stroke="#000" stroke-width="0.25">erwig</text><text x="251.22" y="208.80" font-size="19.71" fill="#000" textLength="10.58" lengthAdjust="spacingAndGlyphs" stroke="#000" stroke-width="0.25">7</text><text x="261.80" y="208.80" font-size="18.90" fill="#000" textLength="5.29" lengthAdjust="spacingAndGlyphs" stroke="#000" stroke-width="0.25">.</text><text x="267.09" y="208.80" font-size="19.71" fill="#000" textLength="10.58" lengthAdjust="spacingAndGlyphs" stroke="#000" stroke-width="0.25">2</text><text x="277.67" y="208.80" font-size="18.90" fill="#000" textLength="5.29" lengthAdjust="spacingAndGlyphs" stroke="#000" stroke-width="0.25">.</text><path d="M530 0V-1003H209V-1129C389 -1148 512 -1232 569 -1409H715V0Z" transform="translate(282.96 208.80) scale(0.00929 0.00963)" fill="#000" stroke="#000" stroke-width="0.25"/><text x="298.82" y="208.80" font-size="18.90" fill="#000" textLength="30.66" lengthAdjust="spacingAndGlyphs" stroke="#000" stroke-width="0.25">soft</text><text x="329.48" y="208.80" font-size="19.71" fill="#000" textLength="11.62" lengthAdjust="spacingAndGlyphs" stroke="#000" stroke-width="0.25">T</text><text x="341.10" y="208.80" font-size="18.90" fill="#000" textLength="31.74" lengthAdjust="spacingAndGlyphs" stroke="#000" stroke-width="0.25">une</text>
<text x="338.99" y="604.20" font-size="16.48" fill="#999" textLength="35.24" lengthAdjust="spacingAndGlyphs">CMS</text><text x="374.23" y="604.20" font-size="15.80" fill="#999" textLength="8.82" lengthAdjust="spacingAndGlyphs">_</text><text x="383.05" y="604.20" font-size="16.48" fill="#999" textLength="26.46" lengthAdjust="spacingAndGlyphs">202</text><path d="M530 0V-1003H209V-1129C389 -1148 512 -1232 569 -1409H715V0Z" transform="translate(409.51 604.20) scale(0.00774 0.00805)" fill="#999"/><text x="418.33" y="604.20" font-size="15.80" fill="#999" textLength="8.82" lengthAdjust="spacingAndGlyphs">_</text><text x="427.15" y="604.20" font-size="16.48" fill="#999" textLength="4.41" lengthAdjust="spacingAndGlyphs">I</text><path d="M530 0V-1003H209V-1129C389 -1148 512 -1232 569 -1409H715V0Z" transform="translate(431.56 604.20) scale(0.00774 0.00805)" fill="#999"/><text x="440.38" y="604.20" font-size="16.48" fill="#999" textLength="26.46" lengthAdjust="spacingAndGlyphs">920</text><path d="M530 0V-1003H209V-1129C389 -1148 512 -1232 569 -1409H715V0Z" transform="translate(466.84 604.20) scale(0.00774 0.00805)" fill="#999"/><text x="475.66" y="604.20" font-size="16.48" fill="#999" textLength="17.64" lengthAdjust="spacingAndGlyphs">87</text>
<g transform="rotate(-90 760.00 266.26)"><text x="760.00" y="266.26" font-size="20.03" fill="#727272" textLength="13.69" lengthAdjust="spacingAndGlyphs">R</text><text x="773.69" y="266.26" font-size="19.20" fill="#727272" textLength="29.51" lengthAdjust="spacingAndGlyphs">ivet</text><text x="808.47" y="266.26" font-size="20.03" fill="#727272" textLength="10.55" lengthAdjust="spacingAndGlyphs">3</text><text x="819.01" y="266.26" font-size="19.20" fill="#727272" textLength="5.27" lengthAdjust="spacingAndGlyphs">.</text><path d="M530 0V-1003H209V-1129C389 -1148 512 -1232 569 -1409H715V0Z" transform="translate(824.28 266.26) scale(0.00926 0.00978)" fill="#727272"/><text x="834.82" y="266.26" font-size="19.20" fill="#727272" textLength="5.27" lengthAdjust="spacingAndGlyphs">.</text><path d="M530 0V-1003H209V-1129C389 -1148 512 -1232 569 -1409H715V0Z" transform="translate(840.09 266.26) scale(0.00926 0.00978)" fill="#727272"/><text x="850.64" y="266.26" font-size="20.03" fill="#727272" textLength="10.55" lengthAdjust="spacingAndGlyphs">0</text><text x="861.18" y="266.26" font-size="19.20" fill="#727272" textLength="5.27" lengthAdjust="spacingAndGlyphs">,</text><text x="871.72" y="266.26" font-size="19.20" fill="#727272" textLength="10.41" lengthAdjust="spacingAndGlyphs">≥</text><text x="887.39" y="266.26" font-size="20.03" fill="#727272" textLength="31.64" lengthAdjust="spacingAndGlyphs">300</text><text x="919.03" y="266.26" font-size="19.20" fill="#727272" textLength="9.48" lengthAdjust="spacingAndGlyphs">k</text><text x="933.78" y="266.26" font-size="19.20" fill="#727272" textLength="55.86" lengthAdjust="spacingAndGlyphs">events</text></g>
<g transform="rotate(-90 762.00 629.26)"><text x="762.00" y="629.26" font-size="19.20" fill="#727272" textLength="132.93" lengthAdjust="spacingAndGlyphs">mcplots.cern.ch</text><text x="900.20" y="629.26" font-size="19.20" fill="#727272" textLength="22.15" lengthAdjust="spacingAndGlyphs">[ar</text><text x="922.36" y="629.26" font-size="20.03" fill="#727272" textLength="12.66" lengthAdjust="spacingAndGlyphs">X</text><text x="935.02" y="629.26" font-size="19.20" fill="#727272" textLength="18.98" lengthAdjust="spacingAndGlyphs">iv:</text><path d="M530 0V-1003H209V-1129C389 -1148 512 -1232 569 -1409H715V0Z" transform="translate(954.00 629.26) scale(0.00927 0.00978)" fill="#727272"/><text x="964.56" y="629.26" font-size="20.03" fill="#727272" textLength="31.67" lengthAdjust="spacingAndGlyphs">306</text><text x="996.23" y="629.26" font-size="19.20" fill="#727272" textLength="5.27" lengthAdjust="spacingAndGlyphs">.</text><text x="1001.51" y="629.26" font-size="20.03" fill="#727272" textLength="42.23" lengthAdjust="spacingAndGlyphs">3436</text><text x="1043.74" y="629.26" font-size="19.20" fill="#727272" textLength="5.27" lengthAdjust="spacingAndGlyphs">]</text></g>
</svg>
</body></html>
